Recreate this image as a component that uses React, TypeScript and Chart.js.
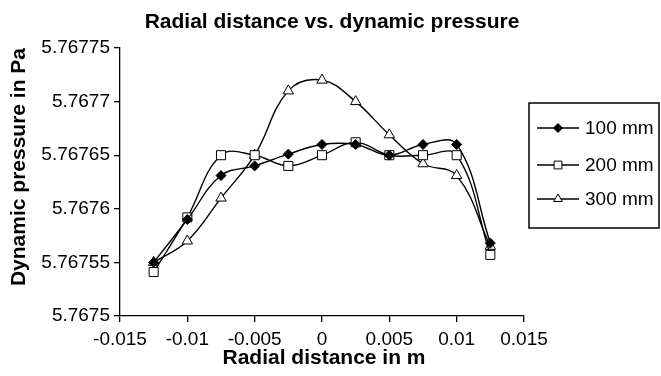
import React, { useEffect, useRef } from "react";
import { Chart, registerables } from "chart.js";

Chart.register(...registerables);

const chartTitle = "Radial distance vs. dynamic pressure";
const xAxisTitle = "Radial distance in m";
const yAxisTitle = "Dynamic pressure in Pa";

const xValues = [-0.0125, -0.01, -0.0075, -0.005, -0.0025, 0, 0.0025, 0.005, 0.0075, 0.01, 0.0125];
const series100 = [5.76755, 5.76759, 5.767631, 5.76764, 5.767651, 5.76766, 5.76766, 5.76765, 5.76766, 5.76766, 5.767568];
const series200 = [5.767541, 5.767592, 5.76765, 5.76765, 5.76764, 5.76765, 5.767662, 5.76765, 5.76765, 5.76765, 5.767557];
const series300 = [5.76755, 5.76757, 5.76761, 5.76765, 5.76771, 5.76772, 5.7677, 5.767669, 5.767642, 5.767631, 5.767565];

const seriesNames = ["100 mm", "200 mm", "300 mm"];
const xTickLabels = ["-0.015", "-0.01", "-0.005", "0", "0.005", "0.01", "0.015"];
const yTickLabels = ["5.7675", "5.76755", "5.7676", "5.76765", "5.7677", "5.76775"];

const FONT = "'Liberation Sans', Arial, sans-serif";

function drawMarker(ctx: CanvasRenderingContext2D, style: string, x: number, y: number, r: number) {
  ctx.beginPath();
  if (style === "rectRot") {
    ctx.moveTo(x, y - r);
    ctx.lineTo(x + r, y);
    ctx.lineTo(x, y + r);
    ctx.lineTo(x - r, y);
    ctx.closePath();
    ctx.fillStyle = "#000";
    ctx.fill();
  } else if (style === "rect") {
    const s = r * Math.SQRT1_2;
    ctx.rect(x - s, y - s, 2 * s, 2 * s);
    ctx.fillStyle = "#fff";
    ctx.fill();
    ctx.stroke();
  } else {
    ctx.moveTo(x, y - r);
    ctx.lineTo(x + r * Math.sin(Math.PI / 3), y + r * 0.5);
    ctx.lineTo(x - r * Math.sin(Math.PI / 3), y + r * 0.5);
    ctx.closePath();
    ctx.fillStyle = "#fff";
    ctx.fill();
    ctx.stroke();
  }
}

const decorPlugin = {
  id: "decor",
  afterDraw(chart: any) {
    const ctx: CanvasRenderingContext2D = chart.ctx;
    ctx.save();
    ctx.fillStyle = "#000";
    ctx.textAlign = "center";
    ctx.textBaseline = "alphabetic";
    ctx.font = `bold 21px ${FONT}`;
    ctx.fillText(chartTitle, 332, 28);
    ctx.fillText(xAxisTitle, 324, 364);
    ctx.save();
    ctx.translate(25, 167);
    ctx.rotate(-Math.PI / 2);
    ctx.fillText(yAxisTitle, 0, 0);
    ctx.restore();

    // legend box
    ctx.strokeStyle = "#000";
    ctx.lineWidth = 1.5;
    ctx.strokeRect(529, 103, 130, 125);
    const rows = [128, 165, 199];
    ctx.font = `19px ${FONT}`;
    ctx.textAlign = "left";
    ctx.textBaseline = "middle";
    chart.data.datasets.forEach((ds: any, i: number) => {
      const y = rows[i];
      ctx.strokeStyle = "#000";
      ctx.lineWidth = 1.4;
      ctx.beginPath();
      ctx.moveTo(537, y);
      ctx.lineTo(579, y);
      ctx.stroke();
      ctx.lineWidth = 1;
      drawMarker(ctx, ds.pointStyle, 558, y, ds.pointStyle === "rect" ? 5.5 : 5);
      ctx.fillStyle = "#000";
      ctx.fillText(seriesNames[i], 585, y + 1);
    });
    ctx.restore();
  },
};

export default function App() {
  const ref = useRef<HTMLCanvasElement>(null);
  useEffect(() => {
    document.body.style.margin = "0";
    const mk = (vals: number[]) => xValues.map((x, i) => ({ x, y: vals[i] }));
    const common = {
      borderColor: "#000",
      borderWidth: 1.4,
      tension: 0.4,
      pointBorderColor: "#000",
      pointBorderWidth: 1,
      fill: false,
    };
    const chart = new Chart(ref.current!, {
      type: "line",
      data: {
        datasets: [
          { ...common, label: seriesNames[0], data: mk(series100), pointStyle: "rectRot", pointRadius: 5, pointBackgroundColor: "#000" },
          { ...common, label: seriesNames[1], data: mk(series200), pointStyle: "rect", pointRadius: 6.4, pointBackgroundColor: "#fff" },
          { ...common, label: seriesNames[2], data: mk(series300), pointStyle: "triangle", pointRadius: 6, pointBackgroundColor: "#fff" },
        ],
      },
      options: {
        responsive: false,
        animation: false,
        events: [],
        layout: { padding: { left: 0, right: 137, top: 48, bottom: 0 } },
        plugins: { legend: { display: false }, title: { display: false }, tooltip: { enabled: false } },
        scales: {
          x: {
            type: "linear",
            min: -0.015,
            max: 0.015,
            afterFit: (s: any) => { s.height = 60; },
            afterBuildTicks: (s: any) => { s.ticks = xTickLabels.map((_, i) => ({ value: -0.015 + i * 0.005 })); },
            ticks: {
              color: "#000",
              font: { family: FONT, size: 19 },
              padding: 6,
              maxRotation: 0,
              autoSkip: false,
              callback: (_v: any, i: number) => xTickLabels[i],
            },
            grid: { drawOnChartArea: false, drawTicks: true, tickLength: 6, color: "#000", lineWidth: 1.3 },
            border: { display: true, color: "#000", width: 1.3 },
          },
          y: {
            type: "linear",
            min: 5.7675,
            max: 5.76775,
            afterFit: (s: any) => { s.width = 120; },
            afterBuildTicks: (s: any) => { s.ticks = yTickLabels.map((_, i) => ({ value: 5.7675 + i * 0.00005 })); },
            ticks: {
              color: "#000",
              font: { family: FONT, size: 19 },
              padding: 4,
              autoSkip: false,
              callback: (_v: any, i: number) => yTickLabels[i],
            },
            grid: { drawOnChartArea: false, drawTicks: true, tickLength: 6, color: "#000", lineWidth: 1.3 },
            border: { display: true, color: "#000", width: 1.3 },
          },
        },
      },
      plugins: [decorPlugin],
    });
    return () => chart.destroy();
  }, []);
  return (
    <div style={{ position: "absolute", left: 0, top: 0, width: 661, height: 376, background: "#fff" }}>
      <canvas ref={ref} width={661} height={376} />
    </div>
  );
}
